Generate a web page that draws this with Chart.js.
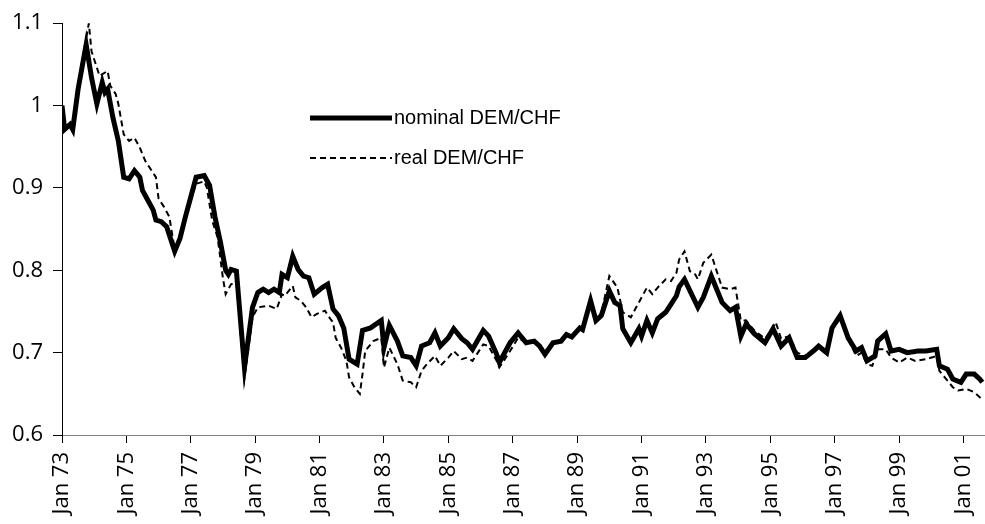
<!DOCTYPE html>
<html>
<head>
<meta charset="utf-8">
<script src="https://cdn.jsdelivr.net/npm/chart.js@4.4.1/dist/chart.umd.min.js"></script>
<style>
  html, body { margin: 0; padding: 0; background: #fff; }
  #wrap { width: 985px; height: 524px; }
</style>
</head>
<body>
<div id="wrap"><canvas id="chart"></canvas></div>
<script>
// ── DATA (months counted from Jan 73) ────────────────
const seriesLabels = ['nominal DEM/CHF', 'real DEM/CHF'];

const nominalMonths = [
  0, 1, 3, 4, 6, 9, 11, 13, 15, 16,
  17, 19, 21, 23, 25, 27, 29, 30, 32, 34,
  35, 37, 39, 42, 44, 46, 48, 50, 53, 55,
  57, 59, 61, 62, 63, 65, 68, 71, 73, 75,
  77, 79, 81, 82, 84, 86, 88, 90, 92, 94,
  97, 99, 101, 103, 105, 107, 110, 112, 115, 119,
  120, 122, 125, 127, 130, 132, 134, 137, 139, 141,
  144, 146, 149, 151, 153, 157, 159, 162, 163, 167,
  170, 173, 176, 178, 180, 183, 186, 188, 190, 193,
  194, 197, 199, 201, 204, 206, 208, 209, 212, 215,
  216, 218, 220, 222, 225, 227, 229, 230, 232, 237,
  239, 242, 246, 249, 251, 253, 255, 258, 262, 265,
  268, 271, 274, 277, 280, 282, 285, 287, 290, 293,
  296, 298, 300, 303, 304, 307, 309, 312, 315, 319,
  322, 326, 327, 330, 332, 335, 337, 340, 342, 343
];
const nominalValues = [
  1.000, 0.971, 0.977, 0.971, 1.020, 1.074, 1.034, 1.002, 1.028, 1.016,
  1.020, 0.985, 0.957, 0.913, 0.911, 0.921, 0.913, 0.897, 0.885, 0.873,
  0.861, 0.859, 0.853, 0.823, 0.839, 0.865, 0.889, 0.913, 0.915, 0.903,
  0.865, 0.835, 0.800, 0.795, 0.801, 0.799, 0.682, 0.755, 0.773, 0.777,
  0.773, 0.777, 0.773, 0.795, 0.791, 0.817, 0.801, 0.793, 0.791, 0.771,
  0.779, 0.783, 0.753, 0.745, 0.730, 0.692, 0.686, 0.727, 0.730, 0.739,
  0.706, 0.733, 0.714, 0.696, 0.694, 0.684, 0.708, 0.712, 0.724, 0.708,
  0.718, 0.729, 0.717, 0.712, 0.704, 0.727, 0.720, 0.698, 0.688, 0.712,
  0.724, 0.712, 0.714, 0.708, 0.698, 0.712, 0.714, 0.722, 0.719, 0.730,
  0.728, 0.763, 0.739, 0.745, 0.775, 0.761, 0.757, 0.729, 0.712, 0.729,
  0.720, 0.739, 0.724, 0.741, 0.749, 0.759, 0.769, 0.780, 0.789, 0.755,
  0.767, 0.793, 0.761, 0.751, 0.755, 0.720, 0.735, 0.723, 0.712, 0.729,
  0.708, 0.718, 0.694, 0.694, 0.702, 0.708, 0.700, 0.730, 0.745, 0.718,
  0.702, 0.706, 0.690, 0.696, 0.714, 0.723, 0.702, 0.704, 0.700, 0.702,
  0.702, 0.704, 0.684, 0.680, 0.668, 0.664, 0.674, 0.674, 0.668, 0.664
];

const realMonths = [
  0, 1, 3, 4, 6, 10, 11, 14, 17, 18,
  20, 21, 23, 25, 27, 29, 31, 35, 36, 38,
  40, 42, 44, 46, 48, 50, 53, 54, 56, 58,
  60, 61, 63, 65, 68, 71, 73, 77, 80, 82,
  83, 86, 87, 89, 91, 93, 95, 98, 100, 101,
  102, 104, 106, 107, 109, 111, 112, 113, 116, 119,
  120, 122, 125, 127, 130, 132, 134, 136, 139, 141,
  144, 146, 149, 151, 153, 157, 159, 162, 163, 167,
  170, 173, 176, 178, 180, 183, 186, 188, 190, 193,
  194, 197, 199, 201, 204, 207, 209, 212, 214, 216,
  218, 220, 222, 225, 227, 229, 230, 232, 234, 236,
  237, 239, 242, 244, 246, 249, 251, 253, 255, 258,
  262, 265, 266, 268, 271, 274, 277, 280, 282, 285,
  287, 290, 293, 296, 298, 300, 302, 304, 307, 309,
  312, 315, 318, 322, 326, 327, 329, 332, 334, 337,
  340, 342, 343
];
const realValues = [
  1.000, 0.971, 0.977, 0.971, 1.025, 1.100, 1.066, 1.036, 1.042, 1.024,
  1.014, 1.002, 0.965, 0.957, 0.961, 0.949, 0.933, 0.913, 0.887, 0.877,
  0.865, 0.825, 0.840, 0.865, 0.887, 0.905, 0.908, 0.900, 0.860, 0.840,
  0.790, 0.771, 0.783, 0.785, 0.669, 0.743, 0.755, 0.757, 0.753, 0.771,
  0.769, 0.781, 0.767, 0.763, 0.755, 0.743, 0.747, 0.751, 0.741, 0.737,
  0.718, 0.706, 0.690, 0.670, 0.658, 0.650, 0.674, 0.702, 0.714, 0.718,
  0.682, 0.706, 0.686, 0.666, 0.664, 0.658, 0.678, 0.686, 0.696, 0.684,
  0.694, 0.702, 0.692, 0.694, 0.690, 0.710, 0.708, 0.690, 0.682, 0.702,
  0.718, 0.712, 0.714, 0.708, 0.698, 0.712, 0.714, 0.722, 0.719, 0.730,
  0.730, 0.760, 0.739, 0.748, 0.793, 0.779, 0.749, 0.743, 0.755, 0.767,
  0.779, 0.771, 0.779, 0.789, 0.787, 0.797, 0.813, 0.823, 0.799, 0.795,
  0.789, 0.809, 0.819, 0.799, 0.779, 0.777, 0.779, 0.739, 0.739, 0.727,
  0.717, 0.730, 0.737, 0.717, 0.720, 0.700, 0.696, 0.700, 0.706, 0.698,
  0.728, 0.742, 0.716, 0.696, 0.700, 0.686, 0.684, 0.704, 0.704, 0.694,
  0.688, 0.694, 0.690, 0.692, 0.696, 0.678, 0.670, 0.658, 0.654, 0.656,
  0.652, 0.646, 0.642
];

// x tick every two years (Jan 73, Jan 75 ... Jan 01)
const xTickMonths = [0, 24, 48, 72, 96, 120, 144, 168, 192, 216, 240, 264, 288, 312, 336];
const yTicks = [0.6, 0.7, 0.8, 0.9, 1.0, 1.1];

const toPoints = (xs, ys) => xs.map((m, i) => ({ x: m, y: ys[i] }));
const monthLabel = m => 'Jan ' + String((73 + Math.round(m / 12)) % 100).padStart(2, '0');

// ── LEGEND INSIDE THE PLOT ───────────────────────────
const legendPos = { x0: 310, x1: 392, textX: 394, rows: [118, 158] };

const inlineLegend = {
  id: 'inlineLegend',
  afterDraw(chart) {
    const ctx = chart.ctx;
    chart.data.datasets.forEach((ds, i) => {
      const y = legendPos.rows[i];
      ctx.save();
      ctx.strokeStyle = ds.borderColor;
      ctx.lineWidth = ds.borderWidth;
      ctx.setLineDash(ds.borderDash || []);
      ctx.beginPath();
      ctx.moveTo(legendPos.x0, y);
      ctx.lineTo(legendPos.x1, y);
      ctx.stroke();
      ctx.setLineDash([]);
      ctx.fillStyle = '#000';
      ctx.font = '20px "Liberation Sans", sans-serif';
      ctx.textBaseline = 'middle';
      ctx.fillText(ds.label, legendPos.textX, y);
      ctx.restore();
    });
  }
};

// ── CHART ────────────────────────────────────────────
const tickFont = { family: '"Open Sans", sans-serif', size: 22 };

new Chart(document.getElementById('chart'), {
  type: 'line',
  data: {
    datasets: [
      { label: seriesLabels[0], data: toPoints(nominalMonths, nominalValues),
        borderColor: '#000', borderWidth: 5, pointRadius: 0, tension: 0 },
      { label: seriesLabels[1], data: toPoints(realMonths, realValues),
        borderColor: '#000', borderWidth: 2, borderDash: [6, 4], pointRadius: 0, tension: 0 },
    ]
  },
  options: {
    responsive: true, maintainAspectRatio: false, animation: false,
    layout: { padding: { top: 20, right: 0, bottom: 0, left: 0 } },
    plugins: { legend: { display: false }, tooltip: { enabled: false } },
    scales: {
      x: {
        type: 'linear', min: 0, max: 344,
        afterBuildTicks: s => { s.ticks = xTickMonths.map(v => ({ value: v })); },
        afterFit: s => { s.height = 89; s.paddingLeft = 0; s.paddingRight = 0; },
        ticks: { minRotation: 90, maxRotation: 90, padding: 9, color: '#000', font: tickFont,
                 callback: v => monthLabel(v) },
        grid: { drawOnChartArea: false, tickLength: 8, color: '#000', lineWidth: 1 },
        border: { color: '#808080', width: 1 }
      },
      y: {
        min: 0.6, max: 1.1,
        afterBuildTicks: s => { s.ticks = yTicks.map(v => ({ value: v })); },
        afterFit: s => { s.width = 62; },
        ticks: { padding: 10, color: '#000', font: tickFont,
                 callback: v => String(+v.toFixed(1)) },
        grid: { drawOnChartArea: false, tickLength: 9, color: '#000', lineWidth: 1 },
        border: { color: '#000', width: 1 }
      }
    }
  },
  plugins: [inlineLegend]
});
</script>
</body>
</html>
